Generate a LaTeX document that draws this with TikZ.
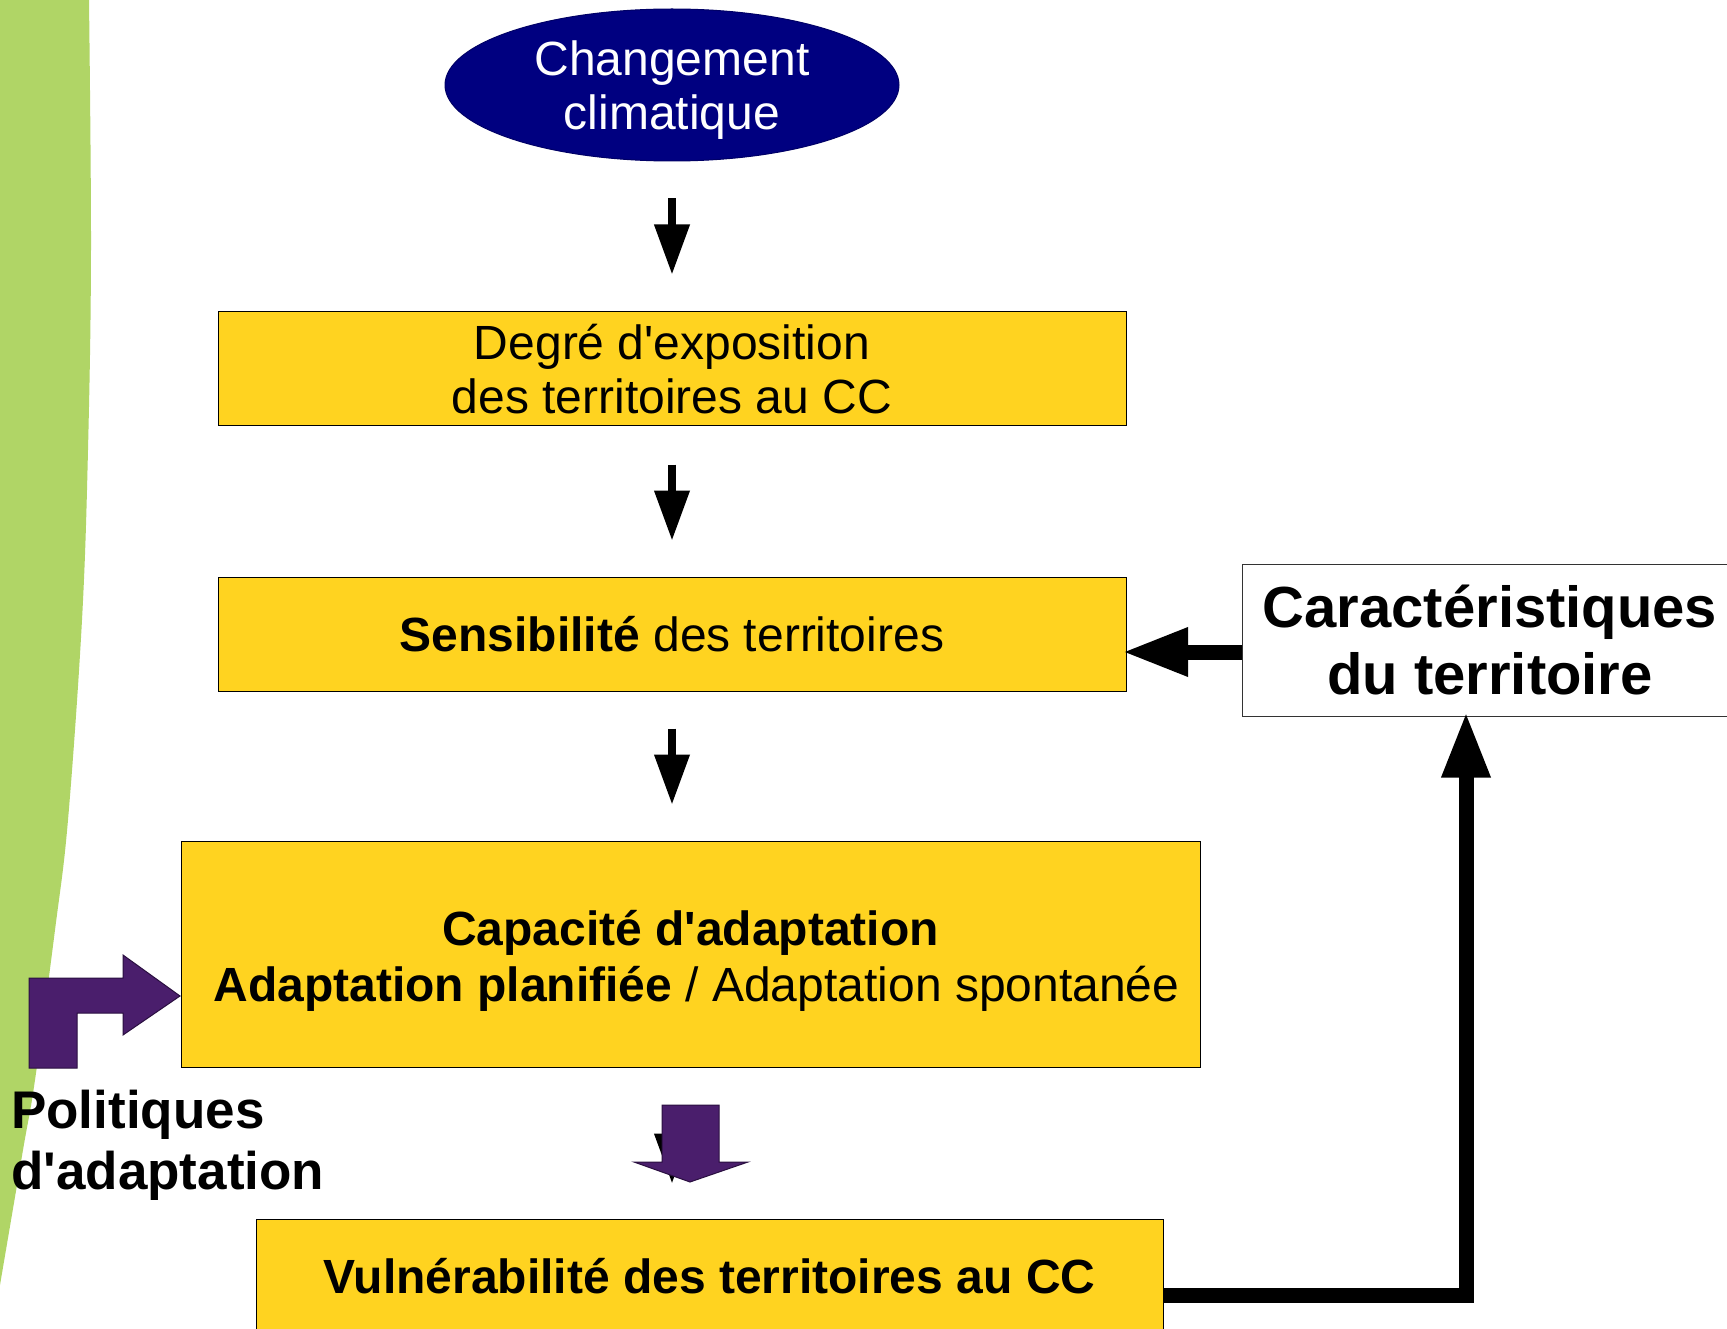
\documentclass[tikz,border=0pt]{standalone}
\usepackage{fontspec}
\setmainfont{Liberation Sans}[Ligatures=TeXOff]
\usetikzlibrary{arrows.meta,shapes.geometric}
\definecolor{boxyellow}{HTML}{FFD320}
\definecolor{leafgreen}{HTML}{B0D566}
\definecolor{navyfill}{HTML}{000080}
\definecolor{purplefill}{HTML}{4A1E6C}
\definecolor{purpleline}{HTML}{2A0F40}
\begin{document}
\begin{tikzpicture}[x=1pt,y=-1pt,
  ybox/.style={draw=black, line width=1pt, fill=boxyellow, rectangle, inner sep=0pt,
     align=center, font=\fontsize{48pt}{54pt}\selectfont},
  plaintext/.style={inner sep=0pt, align=center, font=\fontsize{48pt}{54pt}\selectfont},
  thinarrow/.style={line width=7.3pt, -{Triangle[length=50pt,width=34pt]}},
  thickarrow/.style={line width=15pt, -{Triangle[length=66pt,width=45pt]}},
  purpleshape/.style={fill=purplefill, draw=purpleline, line width=1pt, line join=miter}]
\path[use as bounding box, clip] (0,0) rectangle (1727,1329);
\fill[white] (0,0) rectangle (1727,1329);
% green leaf band
\fill[leafgreen] (0,0) -- (89,0) -- plot[smooth, tension=0.6] coordinates
  {(89,0) (91,250) (88,450) (82,620) (68,820) (55,930) (35,1080) (23,1150) (0,1285)} -- cycle;

% nodes
\node[ellipse, draw=navyfill!80!black, line width=1pt, fill=navyfill, inner sep=0pt,
  minimum width=454pt, minimum height=152pt] (cc) at (672,85) {};
\node[plaintext, text=white] (cctext) at (672,90.5) {Changement\\climatique};
\node[ybox, minimum width=908pt, minimum height=114pt] (expo) at (672,369)
  {Degré d'exposition\\des territoires au CC};
\node[ybox, minimum width=908pt, minimum height=114pt] (sens) at (672,634)
  {\textbf{Sensibilité} des territoires};
\node[ybox, minimum width=1019pt, minimum height=226pt] (capa) at (690.5,954) {};
\node[plaintext, font=\fontsize{48pt}{56pt}\selectfont] (capatext) at (690.5,960.5)
  {\textbf{Capacité d'adaptation}\\\hspace*{12pt}\textbf{Adaptation planifiée} / Adaptation spontanée};
\node[ybox, minimum width=907pt, minimum height=114pt, font=\fontsize{48pt}{54pt}\bfseries] (vuln) at (709.5,1276)
  {Vulnérabilité des territoires au CC};
\node[draw=black!80, line width=1pt, fill=white, rectangle, inner sep=0pt, align=center,
  minimum width=496pt, minimum height=152pt,
  font=\fontsize{58pt}{67pt}\bfseries] (carac) at (1490,640)
  {Caractéristiques\\du territoire};
\node[anchor=base west, align=left, inner sep=0pt,
  font=\fontsize{53pt}{61pt}\bfseries] (polit) at (11,1189) {Politiques\\d'adaptation};

% thin arrows
\draw[thinarrow, shorten <=37pt, shorten >=37pt] (cc.south) -- (expo.north);
\draw[thinarrow, shorten <=38pt, shorten >=36pt] (expo.south) -- (sens.north);
\draw[thinarrow, shorten <=37pt, shorten >=36pt] (sens.south) -- (capa.north -| sens.south);
\draw[thinarrow, shorten <=38pt, shorten >=35pt] (capa.south -| sens.south) -- (vuln.north -| sens.south);

% thick feedback arrows
\coordinate (corner) at (1466,1295);
\draw[thickarrow, line join=miter, shorten >=-5pt] ([yshift=-19pt]vuln.east) -- (corner) -- (corner |- carac.south);
\draw[thickarrow, shorten >=-4.5pt] ([yshift=-12pt]carac.west) -- ([yshift=-18pt]sens.east);

% purple block arrows
\filldraw[purpleshape] (29,1068) -- (29,978) -- (123,978) -- (123,955) -- (180,996)
  -- (123,1035) -- (123,1013) -- (77,1013) -- (77,1068) -- cycle;
\filldraw[purpleshape] (662,1105) -- (719,1105) -- (719,1162) -- (748,1162) -- (690,1182)
  -- (634,1162) -- (662,1162) -- cycle;
\end{tikzpicture}
\end{document}
